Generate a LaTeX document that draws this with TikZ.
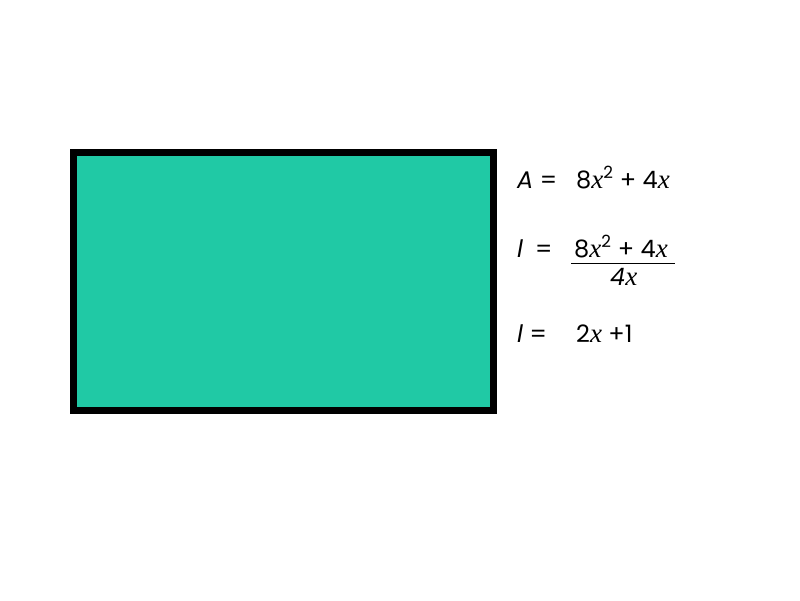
\documentclass[tikz,border=0pt]{standalone}
\usepackage{fontspec}
\setmainfont{Poppins}
\newfontfamily\xfont{Liberation Serif}
\newcommand{\vx}{{\xfont\itshape\fontsize{27}{28}\selectfont x}}
\begin{document}
\begin{tikzpicture}[x=1pt,y=-1pt,
  eq/.style={anchor=base west,inner sep=0pt,font=\fontsize{24}{28}\selectfont}]
\useasboundingbox (0,0) rectangle (800,600);
\definecolor{tealfill}{HTML}{20C9A5}
\draw[line width=7.5pt,fill=tealfill] (73.5,152.5) rectangle (493.5,410.5);
\node[eq] (a1) at (517,188) {\textit{A} =};
\node[eq] (a2) at (576,188) {8\vx\textsuperscript{2} + 4\vx};
\node[eq] (l1) at (517,257) {\textit{l}\enspace =};
\node[eq] (n) at (574,257) {8\vx\textsuperscript{2} + 4\vx};
\draw[line width=1.2pt] (571,263.5) -- (675,263.5);
\node[eq] (d) at (610,285) {\textit{4}\vx};
\node[eq] (r1) at (517,342) {\textit{l} =};
\node[eq] (r2) at (576,342) {2\vx{} +1};
\end{tikzpicture}
\end{document}
